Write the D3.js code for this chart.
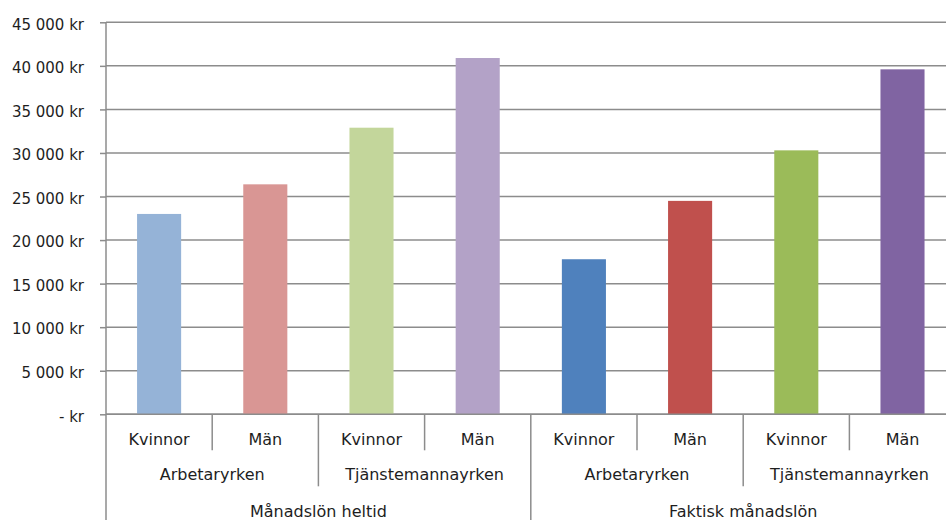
<!DOCTYPE html>
<html>
<head>
<meta charset="utf-8">
<script src="https://cdn.jsdelivr.net/npm/d3@7"></script>
<style>
  html, body { margin: 0; padding: 0; background: #fff; }
  svg { display: block; font-family: "DejaVu Sans", sans-serif; }
</style>
</head>
<body>
<svg id="chart" width="946" height="520"></svg>
<script>
// ---- data ----
const measures = ["Månadslön heltid", "Faktisk månadslön"];
const occupations = ["Arbetaryrken", "Tjänstemannayrken"];
const genders = ["Kvinnor", "Män"];
const heltidValues = [23000, 26400, 32900, 40900];
const faktiskValues = [17800, 24500, 30300, 39600];
const yTicks = [0, 5000, 10000, 15000, 20000, 25000, 30000, 35000, 40000, 45000];
const barColors = ["#95B3D7", "#D99694", "#C3D69B", "#B3A2C7", "#4F81BD", "#C0504D", "#9BBB59", "#8064A2"];

(function () {
// build flat leaf table
const leaves = [];
measures.forEach((m, mi) => {
  const vals = mi === 0 ? heltidValues : faktiskValues;
  occupations.forEach((o, oi) => {
    genders.forEach((g, gi) => {
      leaves.push({ measure: m, occupation: o, gender: g, value: vals[oi * 2 + gi], key: m + "|" + o + "|" + g });
    });
  });
});

const svg = d3.select("#chart");
const plotLeft = 106, plotRight = 955.6, plotTop = 22.3, plotBottom = 414.3;
const gridColor = "#8c8c8c";
const textColor = "#1e1e1e";

const x = d3.scaleBand().domain(leaves.map(d => d.key)).range([plotLeft, plotRight]).padding(0);
const y = d3.scaleLinear().domain([0, 45000]).range([plotBottom, plotTop]);

const fmt = v => v === 0 ? "- kr" : d3.format(",")(v).replace(/,/g, " ") + " kr";

// gridlines
svg.append("g").selectAll("line").data(yTicks).join("line")
  .attr("x1", plotLeft).attr("x2", plotRight)
  .attr("y1", d => y(d)).attr("y2", d => y(d))
  .attr("stroke", gridColor).attr("stroke-width", 1.5);

// y axis
const yAxis = svg.append("g").attr("transform", `translate(${plotLeft},0)`)
  .call(d3.axisLeft(y).tickValues(yTicks).tickFormat(fmt).tickSize(6).tickPadding(16));
yAxis.select(".domain").remove();
yAxis.selectAll(".tick line").attr("stroke", gridColor).attr("stroke-width", 1.5);
yAxis.selectAll(".tick text").attr("fill", textColor).style("font-size", "15px")
  .style("font-family", "DejaVu Sans, sans-serif").attr("dy", "0.45em");

// bars
const barW = x.bandwidth() * 0.415;
svg.append("g").selectAll("rect").data(leaves).join("rect")
  .attr("x", d => x(d.key) + x.bandwidth() / 2 - barW / 2)
  .attr("width", barW)
  .attr("y", d => y(d.value))
  .attr("height", d => y(0) - y(d.value))
  .attr("fill", (d, i) => barColors[i]);

// axes lines
svg.append("line").attr("x1", plotLeft).attr("x2", plotLeft).attr("y1", plotTop).attr("y2", 520)
  .attr("stroke", gridColor).attr("stroke-width", 1.5);
svg.append("line").attr("x1", plotLeft).attr("x2", plotRight).attr("y1", y(0)).attr("y2", y(0))
  .attr("stroke", gridColor).attr("stroke-width", 1.5);

// hierarchical category axis
const step = x.step();
const y0 = y(0);
const sepG = svg.append("g").attr("stroke", gridColor).attr("stroke-width", 1.5);
leaves.forEach((d, i) => {
  if (i === 0) return;
  let len;
  if (i % 4 === 0) len = 520 - y0;
  else if (i % 2 === 0) len = 72;
  else len = 36;
  const xx = x(d.key);
  sepG.append("line").attr("x1", xx).attr("x2", xx).attr("y1", y0).attr("y2", y0 + len);
});
sepG.append("line").attr("x1", plotRight).attr("x2", plotRight).attr("y1", y0).attr("y2", 520);

const lab = svg.append("g").attr("fill", textColor).attr("text-anchor", "middle").style("font-size", "16px");
leaves.forEach(d => {
  lab.append("text").attr("x", x(d.key) + x.bandwidth() / 2).attr("y", 445).text(d.gender);
});
measures.forEach(m => {
  occupations.forEach(o => {
    const ks = leaves.filter(d => d.measure === m && d.occupation === o);
    const cx = (x(ks[0].key) + x(ks[ks.length - 1].key) + step) / 2;
    lab.append("text").attr("x", cx).attr("y", 480).text(o);
  });
  const ks = leaves.filter(d => d.measure === m);
  const cx = (x(ks[0].key) + x(ks[ks.length - 1].key) + step) / 2;
  lab.append("text").attr("x", cx).attr("y", 517).text(m);
});
})();
</script>
</body>
</html>
